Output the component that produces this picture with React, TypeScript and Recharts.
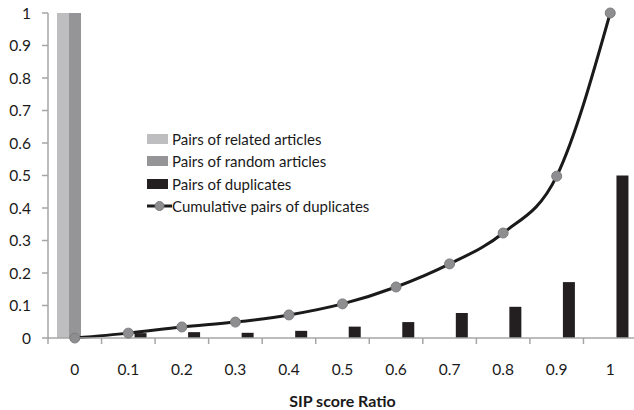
import React from 'react';
import { ComposedChart, Bar, Line, XAxis, YAxis } from 'recharts';

const categories = ['0', '0.1', '0.2', '0.3', '0.4', '0.5', '0.6', '0.7', '0.8', '0.9', '1'];
const relatedPairs = [1, 0, 0, 0, 0, 0, 0, 0, 0, 0, 0];
const randomPairs = [1, 0, 0, 0, 0, 0, 0, 0, 0, 0, 0];
const duplicatePairs = [0, 0.015, 0.018, 0.016, 0.022, 0.035, 0.049, 0.077, 0.096, 0.172, 0.5];
const cumulativeDuplicates = [0, 0.015, 0.034, 0.049, 0.071, 0.105, 0.157, 0.228, 0.323, 0.498, 1];
const yTicks = [0, 0.1, 0.2, 0.3, 0.4, 0.5, 0.6, 0.7, 0.8, 0.9, 1];

const seriesNames = ['Pairs of related articles', 'Pairs of random articles', 'Pairs of duplicates', 'Cumulative pairs of duplicates'];
const seriesColors = ['#bebec0', '#959597', '#231f20', '#1a1a1a'];

const data = categories.map((c, i) => ({
  cat: c,
  related: relatedPairs[i],
  random: randomPairs[i],
  dup: duplicatePairs[i],
  cum: cumulativeDuplicates[i],
}));

const FONT = 'Lato, "Open Sans", sans-serif';
const AXIS = '#a6a6a6';
const TEXT = '#1a1a1a';

const XTick = (props: any) => {
  const { x, y, payload } = props;
  const half = payload && payload.offset ? payload.offset : 0;
  return (
    <g>
      <line x1={x - half} x2={x - half} y1={y} y2={y + 6} stroke={AXIS} strokeWidth={1.5} />
      <text x={x} y={y + 37} textAnchor="middle" fill={TEXT} fontSize={15.5} fontFamily={FONT}>
        {payload.value}
      </text>
    </g>
  );
};

const LegendBox = () => (
  <div style={{ position: 'absolute', left: 147, top: 128, fontFamily: FONT, fontSize: 15, color: TEXT }}>
    {seriesNames.map((name, i) => (
      <div key={i} style={{ display: 'flex', alignItems: 'center', height: 22.3, whiteSpace: 'nowrap' }}>
        {i === 3 ? (
          <svg width={25} height={12} style={{ marginRight: 0 }}>
            <line x1={0} x2={25} y1={6} y2={6} stroke={seriesColors[i]} strokeWidth={3} />
            <circle cx={12.5} cy={6} r={4.5} fill="#8e8e90" stroke="#7d7d7f" />
          </svg>
        ) : (
          <div style={{ width: 21, height: 10, background: seriesColors[i], marginRight: 4 }} />
        )}
        <span>{name}</span>
      </div>
    ))}
  </div>
);

export default function App() {
  return (
    <div style={{ position: 'absolute', left: 0, top: 0, width: 634, height: 410, overflow: 'hidden', background: '#fff' }}>
      <ComposedChart
        width={637}
        height={410}
        data={data}
        margin={{ top: 13, right: 0, bottom: 0, left: 0 }}
        barGap={0}
        style={{ fontFamily: FONT }}
      >
        <XAxis
          dataKey="cat"
          height={72}
          axisLine={{ stroke: AXIS, strokeWidth: 1.5 }}
          tickLine={false}
          tickSize={0}
          tickMargin={0}
          tick={<XTick />}
          interval={0}
          label={{ value: 'SIP score Ratio', position: 'insideBottom', offset: 3, fill: TEXT, fontSize: 16, fontWeight: 'bold', fontFamily: FONT }}
        />
        <YAxis
          width={48}
          domain={[0, 1]}
          ticks={yTicks}
          interval={0}
          axisLine={{ stroke: AXIS, strokeWidth: 1.5 }}
          tickLine={{ stroke: AXIS, strokeWidth: 1.5 }}
          tickSize={6}
          tickMargin={11}
          tick={{ fill: TEXT, fontSize: 15.5, fontFamily: FONT }}
        />
        <Bar dataKey="related" name={seriesNames[0]} fill={seriesColors[0]} barSize={12} isAnimationActive={false} />
        <Bar dataKey="random" name={seriesNames[1]} fill={seriesColors[1]} barSize={12} isAnimationActive={false} />
        <Bar dataKey="dup" name={seriesNames[2]} fill={seriesColors[2]} barSize={12} isAnimationActive={false} />
        <Line
          dataKey="cum"
          name={seriesNames[3]}
          type="monotone"
          stroke={seriesColors[3]}
          strokeWidth={3}
          dot={{ r: 5, fill: '#8e8e90', stroke: '#7d7d7f', strokeWidth: 1 }}
          isAnimationActive={false}
        />
      </ComposedChart>
      <LegendBox />
    </div>
  );
}
